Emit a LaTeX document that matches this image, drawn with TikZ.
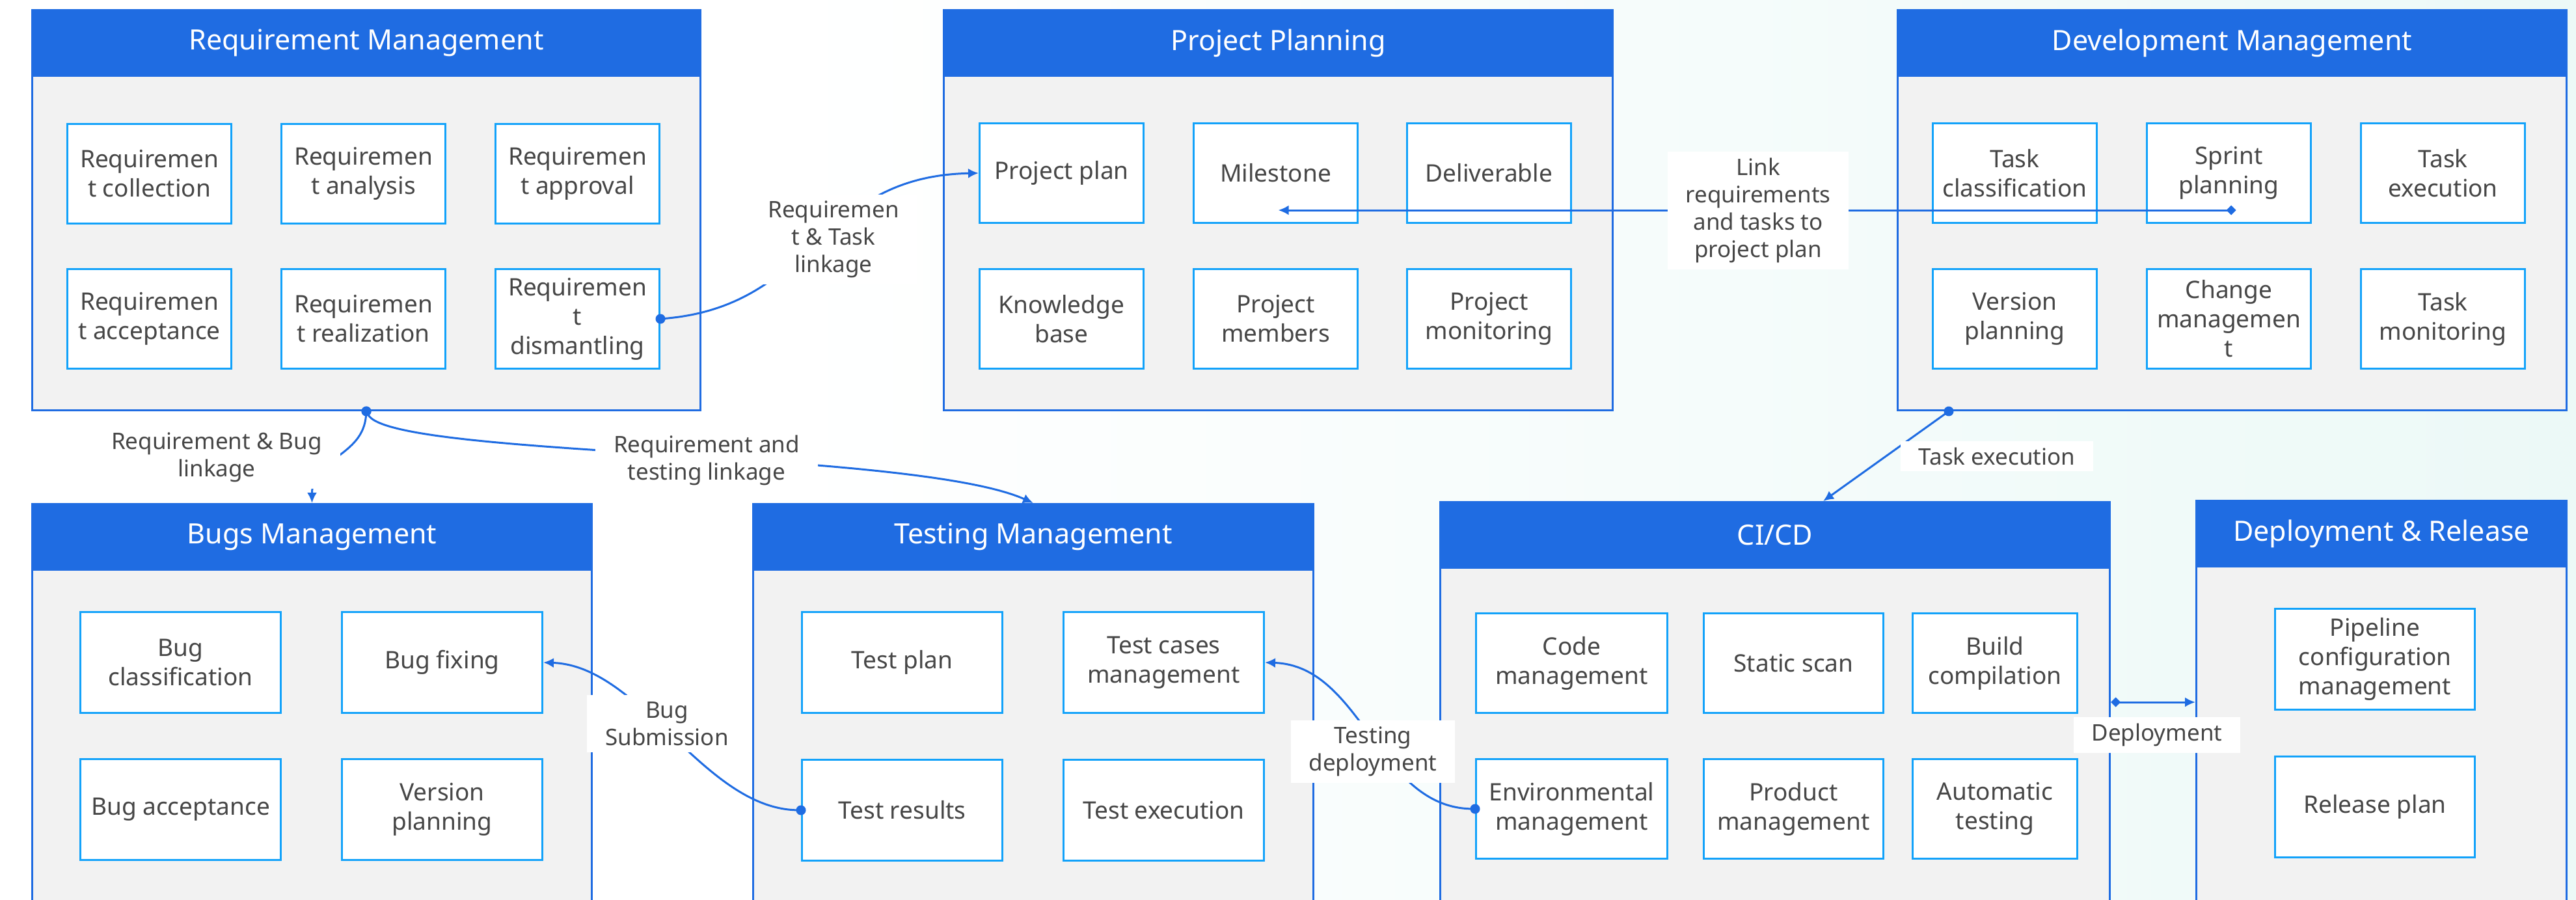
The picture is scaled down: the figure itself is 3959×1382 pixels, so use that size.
\documentclass[tikz,border=0pt]{standalone}
\usepackage{fontspec}
\setmainfont{Noto Sans}
\usetikzlibrary{arrows.meta,calc}
\definecolor{hblue}{RGB}{31,108,226}
\definecolor{iblue}{RGB}{18,162,250}
\definecolor{cfill}{RGB}{242,242,242}
\definecolor{tgray}{RGB}{70,70,70}
\definecolor{bgcyan}{RGB}{236,249,247}
\tikzset{
  LTip/.tip={Latex[length=16pt,width=15pt]},
  DTip/.tip={Diamond[length=15pt,width=15pt]},
  CTip/.tip={Circle[length=15pt]},
}
\begin{document}
\begin{tikzpicture}[x=1pt,y=-1pt,
  container/.style={draw=hblue, fill=cfill, line width=3pt, minimum height=615pt, anchor=north west, inner sep=0pt},
  header/.style={fill=hblue, draw=hblue, line width=3pt, minimum height=101pt, anchor=north west, inner sep=0pt, text=white, font=\fontsize{43}{50}\selectfont},
  ibox/.style={draw=iblue, fill=white, line width=3pt, anchor=north west, inner sep=2pt, align=center, text=tgray, font=\fontsize{37}{45}\selectfont},
  rbox/.style={ibox, minimum width=252pt, minimum height=153pt},
  wbox/.style={ibox, minimum width=308pt, minimum height=155pt},
  conn/.style={draw=hblue, line width=3pt},
  dotconn/.style={conn, {CTip}-{LTip}, shorten <=-7.5pt},
  lbl/.style={fill=white, text=tgray, align=center, font=\fontsize{35}{42}\selectfont, inner xsep=28pt, inner ysep=10pt},
]
\path[use as bounding box] (0,0) rectangle (3959,1382);
\clip (0,0) rectangle (3959,1382);
\fill[white] (0,0) rectangle (3959,1382);
\shade[left color=white, right color=bgcyan] (1200,0) rectangle (3959,1382);

% containers
\node[container, minimum width=1027pt] (reqm) at (48,14) {};
\node[header, minimum width=1027pt] (reqh) at (reqm.north west) {Requirement Management};
\node[container, minimum width=1028pt] (ppm) at (1449,14) {};
\node[header, minimum width=1028pt] (pph) at (ppm.north west) {Project Planning};
\node[container, minimum width=1028pt] (devm) at (2915,14) {};
\node[header, minimum width=1028pt] (devh) at (devm.north west) {Development Management};
\node[container, minimum width=860pt] (bugs) at (48,773) {};
\node[header, minimum width=860pt] (bugh) at (bugs.north west) {Bugs Management};
\node[container, minimum width=861pt] (test) at (1156,773) {};
\node[header, minimum width=861pt] (testh) at (test.north west) {Testing Management};
\node[container, minimum width=1029pt] (cicd) at (2212,770) {};
\node[header, minimum width=1029pt] (cicdh) at (cicd.north west) {CI/CD};
\node[container, minimum width=569pt] (depl) at (3374,768) {};
\node[header, minimum width=569pt] (deplh) at (depl.north west) {Deployment \& Release};

% Requirement Management
\node[rbox] (rcol) at (102,189) {Requiremen\\t collection};
\node[rbox] (rana) at (431,189) {Requiremen\\t analysis};
\node[rbox] (rapp) at (760,189) {Requiremen\\t approval};
\node[rbox] (racc) at (102,412) {Requiremen\\t acceptance};
\node[rbox] (rrea) at (431,412) {Requiremen\\t realization};
\node[rbox] (rdis) at (760,412) {Requiremen\\t\\dismantling};

% Project Planning
\node[rbox] (pplan) at (1504,188) {Project plan};
\node[rbox] (miles) at (1833,188) {Milestone};
\node[rbox] (deliv) at (2161,188) {Deliverable};
\node[rbox] (kbase) at (1504,412) {Knowledge\\base};
\node[rbox] (pmem) at (1833,412) {Project\\members};
\node[rbox] (pmon) at (2161,412) {Project\\monitoring};

% Development Management
\node[rbox] (tcls) at (2969,188) {Task\\classification};
\node[rbox] (sprint) at (3298,188) {Sprint\\planning};
\node[rbox] (texe) at (3627,188) {Task\\execution};
\node[rbox] (vplan) at (2969,412) {Version\\planning};
\node[rbox] (chg) at (3298,412) {Change\\managemen\\t};
\node[rbox] (tmon) at (3627,412) {Task\\monitoring};

% Bugs Management
\node[wbox] (bcls) at (122,939) {Bug\\classification};
\node[wbox] (bfix) at (524,939) {Bug fixing};
\node[wbox] (bacc) at (122,1165) {Bug acceptance};
\node[wbox] (bver) at (524,1165) {Version\\planning};

% Testing Management
\node[wbox] (tplan) at (1231,939) {Test plan};
\node[wbox] (tcm) at (1633,939) {Test cases\\management};
\node[wbox] (tres) at (1231,1166) {Test results};
\node[wbox] (texec) at (1633,1166) {Test execution};

% CI/CD
\node[ibox, minimum width=294pt, minimum height=153pt] (code) at (2267,941) {Code\\management};
\node[ibox, minimum width=276pt, minimum height=153pt] (sscan) at (2617,941) {Static scan};
\node[ibox, minimum width=253pt, minimum height=153pt] (build) at (2938,941) {Build\\compilation};
\node[ibox, minimum width=294pt, minimum height=153pt] (envm) at (2267,1165) {Environmental\\management};
\node[ibox, minimum width=276pt, minimum height=153pt] (prod) at (2617,1165) {Product\\management};
\node[ibox, minimum width=253pt, minimum height=153pt] (auto) at (2938,1165) {Automatic\\testing};

% Deployment & Release
\node[wbox, minimum width=307pt] (pipe) at (3495,934) {Pipeline\\configuration\\management};
\node[wbox, minimum width=307pt] (rel) at (3495,1161) {Release plan};

% connectors
\draw[dotconn] (rdis.east) .. controls +(240,-20) and +(-250,5) .. (pplan.west);
\draw[conn, {DTip}-{LTip}] ($(sprint.center)+(11,57)$) -- ($(miles.center)+(4,57)$);
\draw[dotconn] (reqm.south) .. controls +(-5,70) and +(0,-70) .. (bugs.north);
\draw[dotconn] (reqm.south) .. controls +(38,72) and +(-186,-83) .. (test.north);
\draw[dotconn] (tres.west) .. controls +(-150,-3) and +(150,5) .. (bfix.east);
\draw[dotconn] (envm.west) .. controls +(-150,-3) and +(150,5) .. (tcm.east);
\draw[dotconn] ([xshift=80pt]devm.south west) -- ([xshift=590pt]cicd.north west);
\draw[conn, {DTip}-{LTip}] (cicd.east) -- (cicd.east -| depl.west);

% labels
\node[lbl] (l1) at (1281,368) {Requiremen\\t \& Task\\linkage};
\node[lbl] (l2) at (2702,323) {Link\\requirements\\and tasks to\\project plan};
\node[lbl] (l3) at (333,703) {Requirement \& Bug\\linkage};
\node[lbl] (l4) at (1086,707) {Requirement and\\testing linkage};
\node[lbl] (l5) at (1025,1112) {Bug\\Submission};
\node[lbl] (l6) at (2110,1155) {Testing\\deployment};
\node[lbl] (l7) at (3069,701) {Task execution};
\node[lbl] (l8) at (3315,1129) {Deployment};
\end{tikzpicture}
\end{document}
